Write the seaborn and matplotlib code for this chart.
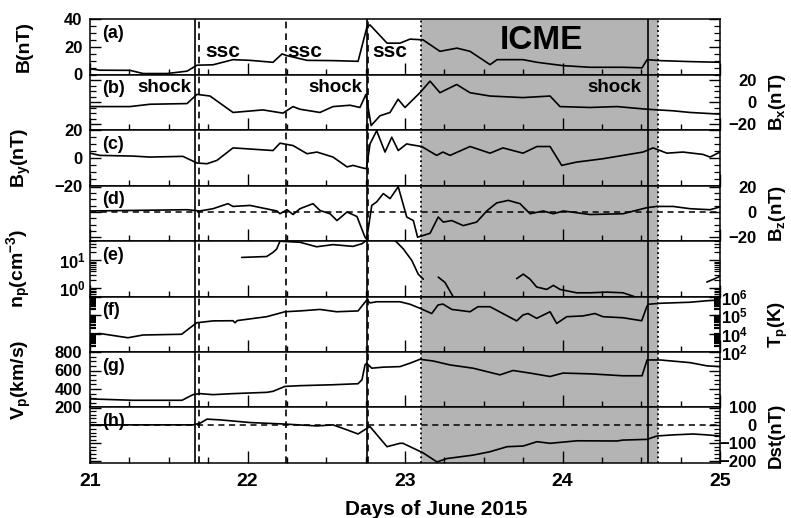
import numpy as np
import pandas as pd
import matplotlib
matplotlib.use("Agg")
import matplotlib.pyplot as plt
from matplotlib import ticker
import seaborn as sns

# ---------------- data ----------------
b_day = [21.000, 21.063, 21.254, 21.337, 21.489, 21.616, 21.679, 21.781, 21.908, 22.016,
         22.162, 22.219, 22.251, 22.378, 22.543, 22.702, 22.759, 22.778, 22.886, 22.968,
         23.032, 23.114, 23.222, 23.330, 23.413, 23.540, 23.584, 23.749, 23.838, 24.003,
         24.175, 24.384, 24.505, 24.537, 24.619, 24.810, 25.000]
b_val = [4.1, 3.1, 3.0, 0.7, 0.7, 2.4, 6.7, 7.0, 10.7, 10.2,
         8.8, 14.8, 13.6, 10.2, 10.0, 9.5, 34.5, 35.7, 22.6, 22.6,
         25.5, 25.0, 16.7, 19.0, 16.7, 7.1, 10.7, 10.7, 8.8, 6.4,
         5.2, 5.2, 4.8, 10.7, 10.0, 9.3, 8.8]

bx_day = [21.000, 21.254, 21.381, 21.616, 21.679, 21.762, 21.908, 22.098, 22.225, 22.289,
          22.333, 22.460, 22.543, 22.651, 22.714, 22.752, 22.785, 22.841, 22.905, 22.956,
          23.000, 23.095, 23.159, 23.222, 23.328, 23.413, 23.540, 23.749, 23.921, 23.984,
          24.175, 24.346, 24.537, 24.702, 24.810, 25.000]
bx_val = [-3.9, -3.9, -1.8, -1.2, 7.1, 5.6, -9.2, -6.9, -9.8, -3.9,
          -6.3, -9.2, -3.9, -2.7, -4.7, 7.1, -21.0, -12.2, -9.2, 2.7,
          -4.7, 8.6, 19.0, 8.6, 16.0, 8.6, 5.6, 4.2, 5.6, -3.9,
          -4.7, -3.9, -6.3, -7.7, -9.2, -10.7]

by_day = [21.000, 21.063, 21.273, 21.381, 21.590, 21.679, 21.743, 21.806, 21.908, 22.162,
          22.206, 22.289, 22.378, 22.441, 22.543, 22.632, 22.670, 22.733, 22.755, 22.778,
          22.820, 22.873, 22.916, 22.957, 23.011, 23.032, 23.106, 23.201, 23.241, 23.286,
          23.413, 23.540, 23.622, 23.749, 23.838, 23.921, 23.995, 24.090, 24.175, 24.257,
          24.384, 24.511, 24.575, 24.663, 24.765, 24.892, 24.937, 25.000]
by_val = [3.3, 1.7, 1.2, 0.5, 1.0, -3.8, -4.3, -1.9, 7.1, 5.2,
          10.5, 8.8, 2.9, 4.1, 0.5, -6.6, -5.5, -7.4, -7.9, 10.0,
          19.5, 4.1, 14.8, 5.2, 10.0, 9.5, 8.1, 1.7, 4.1, 1.7,
          8.1, 3.3, 7.1, 3.3, 8.1, 8.1, -5.5, -3.1, -1.9, -0.7,
          1.7, 4.1, 7.1, 3.3, 4.1, 2.4, 0.5, 4.1]

bz_day = [21.000, 21.616, 21.698, 21.781, 21.876, 21.908, 22.016, 22.187, 22.206, 22.251,
          22.289, 22.333, 22.416, 22.460, 22.524, 22.568, 22.632, 22.695, 22.746, 22.757,
          22.789, 22.820, 22.862, 22.905, 22.957, 23.011, 23.053, 23.080, 23.159, 23.211,
          23.243, 23.297, 23.370, 23.455, 23.519, 23.582, 23.656, 23.730, 23.794, 23.878,
          23.942, 24.005, 24.175, 24.384, 24.535, 24.598, 24.702, 24.810, 24.937, 25.000]
bz_val = [0.8, 1.8, 0.8, 2.6, 6.6, 4.4, 5.2, 0.8, -1.4, 1.8,
          -2.0, 2.6, 6.6, 1.2, -1.4, -6.8, 0.0, -3.6, -20.0, -21.4,
          5.2, 8.0, 14.6, 10.6, 20.0, -4.0, -6.8, -20.0, -16.9, -4.0,
          -8.0, -6.8, -10.8, -8.0, 0.8, 7.2, 9.2, 6.6, -1.4, 0.8,
          -1.4, 0.8, -2.0, -1.4, 3.4, 4.4, 4.4, 2.6, 1.8, 4.0]

np_day = [21.963, 22.122, 22.162, 22.185, 22.206, 22.333, 22.439, 22.543, 22.670, 22.727,
          22.760, 22.850, 22.937, 22.989, 23.043, 23.084, 23.116,
          23.211, 23.254, 23.297, 23.310,
          23.709, 23.751, 23.794, 23.836, 23.900, 23.942, 23.984, 24.090, 24.175, 24.281,
          24.384, 24.450, 24.470,
          24.916, 24.968, 25.000]
np_val = [12.8, 13.8, 19.5, 25.6, 49.0, 45.0, 31.0, 37.0, 32.0, 40.0,
          55.0, 70.0, 52.0, 26.0, 10.0, 3.2, 2.1,
          2.5, 1.6, 0.6, 0.45,
          2.2, 3.2, 2.1, 1.1, 0.9, 1.26, 0.9, 0.68, 0.68, 0.72,
          0.68, 0.51, 0.45,
          1.66, 2.2, 2.7]
np_seg = [1] * 17 + [2] * 4 + [3] * 13 + [4] * 3

tp_day = [21.000, 21.063, 21.241, 21.337, 21.582, 21.677, 21.781, 21.908, 21.921, 21.935,
          22.122, 22.238, 22.333, 22.460, 22.566, 22.702, 22.757, 22.778, 22.820, 22.968,
          23.032, 23.095, 23.170, 23.210, 23.241, 23.297, 23.413, 23.463, 23.540, 23.709,
          23.749, 23.781, 23.836, 23.921, 23.963, 24.027, 24.130, 24.206, 24.257, 24.384,
          24.503, 24.535, 24.545, 24.619, 24.810, 24.918, 25.000]
tp_val = [9.1e3, 1.0e4, 5.9e3, 8.3e3, 9.1e3, 3.8e4, 4.8e4, 4.9e4, 3.8e4, 5.0e4,
          8.1e4, 1.5e5, 1.66e5, 2.0e5, 1.5e5, 1.66e5, 6.5e5, 4.5e5, 5.2e5, 5.2e5,
          3.8e5, 2.3e5, 1.2e5, 3.5e5, 3.9e5, 2.0e5, 1.5e5, 2.8e5, 2.8e5, 4.8e4,
          1.0e5, 1.2e5, 6.6e4, 1.5e5, 3.5e4, 8.1e4, 8.9e4, 1.2e5, 8.1e4, 7.1e4,
          4.9e4, 2.8e5, 3.8e5, 4.3e5, 4.9e5, 5.9e5, 6.5e5]

vp_day = [21.000, 21.273, 21.584, 21.654, 21.698, 21.781, 21.908, 22.124, 22.162, 22.238,
          22.333, 22.543, 22.702, 22.727, 22.746, 22.757, 22.789, 22.860, 22.968, 23.032,
          23.095, 23.178, 23.286, 23.432, 23.603, 23.686, 23.794, 23.921, 24.003, 24.175,
          24.384, 24.505, 24.537, 24.619, 24.810, 24.918, 25.000]
vp_val = [293, 278, 278, 339, 350, 339, 350, 364, 375, 428,
          436, 446, 457, 500, 660, 679, 625, 636, 642, 679,
          721, 703, 660, 625, 553, 600, 572, 535, 572, 564,
          543, 543, 714, 714, 685, 650, 642]

dst_day = [21.000, 21.654, 21.698, 21.743, 21.825, 22.016, 22.225, 22.441, 22.543, 22.632,
           22.702, 22.759, 22.778, 22.886, 22.968, 22.987, 23.114, 23.203, 23.267, 23.432,
           23.540, 23.648, 23.751, 23.838, 23.921, 24.092, 24.346, 24.384, 24.537, 24.600,
           24.702, 24.829, 24.918, 25.000]
dst_val = [3, 3, 12, 35, 31, 16, 8, -3, 3, -25,
           -48, -16, -7, -119, -100, -100, -153, -204, -185, -166,
           -147, -119, -115, -91, -100, -86, -87, -82, -78, -59,
           -53, -48, -53, -59]

solid_lines = [21.667, 22.757, 24.545]
dashed_lines = [21.692, 22.243, 22.767]
icme_span = [23.099, 24.605]
x_ticks = [21, 22, 23, 24, 25]

panel_letters = ["(a)", "(b)", "(c)", "(d)", "(e)", "(f)", "(g)", "(h)"]
y_labels = ["B(nT)", "B$_x$(nT)", "B$_y$(nT)", "B$_z$(nT)",
            "n$_p$(cm$^{-3}$)", "T$_p$(K)", "V$_p$(km/s)", "Dst(nT)"]
ssc_days = [21.730, 22.251, 22.790]
shock_days = [21.645, 22.727, 24.503]
tp_tick_vals = [1e3, 1e4, 1e5, 1e6]
tp_tick_labels = ["$10^2$", "$10^4$", "$10^5$", "$10^6$"]

# ---------------- style ----------------
sns.set_style("ticks")
plt.rcParams["font.family"] = ["Liberation Sans", "DejaVu Sans"]
plt.rcParams["font.weight"] = "bold"
plt.rcParams["mathtext.fontset"] = "custom"
plt.rcParams["mathtext.rm"] = "Liberation Sans:bold"
plt.rcParams["mathtext.it"] = "Liberation Sans:bold"
plt.rcParams["mathtext.bf"] = "Liberation Sans:bold"
plt.rcParams["mathtext.default"] = "rm"
plt.rcParams["axes.edgecolor"] = "black"
plt.rcParams["axes.linewidth"] = 1.1
plt.rcParams["text.color"] = "black"
plt.rcParams["axes.labelcolor"] = "black"
plt.rcParams["xtick.color"] = "black"
plt.rcParams["ytick.color"] = "black"

fig, axes = plt.subplots(8, 1, figsize=(7.91, 5.18), dpi=100, sharex=True)
fig.subplots_adjust(left=90 / 791, right=720 / 791, top=1 - 19 / 518,
                    bottom=1 - 463 / 518, hspace=0)

series = [(b_day, b_val, None), (bx_day, bx_val, None), (by_day, by_val, None),
          (bz_day, bz_val, None), (np_day, np_val, np_seg), (tp_day, tp_val, None),
          (vp_day, vp_val, None), (dst_day, dst_val, None)]

ylims = [(0, 40), (-25, 25), (-20, 20), (-23, 21), (0.5, 50), (1e3, 1e6), (200, 800), (-210, 100)]
majors = [[0, 20, 40], [-20, 0, 20], [-20, 0, 20], [-20, 0, 20], [1, 10], tp_tick_vals,
          [200, 400, 600, 800], [-200, -100, 0, 100]]
minors = [5, 5, 5, 5, None, None, 50, 20]
right_side = [False, True, False, True, False, True, False, True]

for i, ax in enumerate(axes):
    days, vals, seg = series[i]
    df = pd.DataFrame({"day": days, "val": vals,
                       "seg": seg if seg is not None else [0] * len(days)})
    ax.axvspan(icme_span[0], icme_span[1], color="#b4b4b4", lw=0, zorder=0)
    for d in icme_span:
        ax.axvline(d, color="black", ls=":", lw=1.3, zorder=1)
    for d in solid_lines:
        ax.axvline(d, color="black", ls="-", lw=1.2, zorder=1)
    for d in dashed_lines:
        ax.axvline(d, color="black", ls=(0, (4, 3)), lw=1.2, zorder=1)
    if i in (3, 7):
        ax.axhline(0, color="black", ls=(0, (4, 3)), lw=1.1, zorder=1)
    sns.lineplot(data=df, x="day", y="val", units="seg", estimator=None, sort=False,
                 color="black", lw=1.2, ax=ax, legend=False, zorder=3)

    ax.set_xlim(21, 25)
    if i in (4, 5):
        ax.set_yscale("log")
    ax.set_ylim(*ylims[i])
    ax.yaxis.set_major_locator(ticker.FixedLocator(majors[i]))
    if minors[i] is not None:
        ax.yaxis.set_minor_locator(ticker.MultipleLocator(minors[i]))
    else:
        ax.yaxis.set_minor_locator(ticker.LogLocator(base=10, subs=np.arange(2, 10)))
        ax.yaxis.set_minor_formatter(ticker.NullFormatter())
    if i == 4:
        ax.yaxis.set_major_formatter(ticker.LogFormatterMathtext())
    if i == 5:
        ax.yaxis.set_major_formatter(ticker.FixedFormatter(tp_tick_labels))

    ax.xaxis.set_major_locator(ticker.FixedLocator(x_ticks))
    ax.xaxis.set_minor_locator(ticker.MultipleLocator(0.25))
    ax.tick_params(axis="x", which="major", direction="in", length=8.5, width=1,
                   top=False, bottom=True, labelsize=14, pad=7)
    ax.tick_params(axis="x", which="minor", direction="in", length=4.3, width=1,
                   top=False, bottom=True)
    ax.tick_params(axis="y", which="major", direction="in", length=8, width=1,
                   left=True, right=True, labelsize=12)
    ax.tick_params(axis="y", which="minor", direction="in", length=4,
                   width=1.6 if i == 5 else 0.9, left=True, right=True)

    if right_side[i]:
        pad = 20 if i == 5 else 26.5
        ax.tick_params(axis="y", which="major", labelleft=False, labelright=True, pad=pad)
        for t in ax.yaxis.get_major_ticks():
            t.label2.set_horizontalalignment("right")
        ax.yaxis.set_label_position("right")
        ax.set_ylabel(y_labels[i], fontsize=13.5, fontweight="bold")
        ax.yaxis.set_label_coords(1.075, 0.5)
    else:
        ax.tick_params(axis="y", which="major", labelleft=True, labelright=False,
                       pad=3 if i == 4 else 5.5)
        ax.set_ylabel(y_labels[i], fontsize=14, fontweight="bold")
        ax.yaxis.set_label_coords(-0.091, 0.5)

    ax.text(0.02, 0.74, panel_letters[i], transform=ax.transAxes, fontsize=13,
            fontweight="bold", ha="left", va="center", zorder=5)
    if i < 7:
        ax.tick_params(axis="x", labelbottom=False)
        ax.set_xlabel("")

axes[0].text(23.868, 0.62, "ICME", transform=axes[0].get_xaxis_transform(),
             fontsize=24, fontweight="bold", ha="center", va="center", zorder=5)
for d in ssc_days:
    axes[0].text(d, 0.41, "ssc", transform=axes[0].get_xaxis_transform(),
                 fontsize=15, fontweight="bold", ha="left", va="center", zorder=5)
for d in shock_days:
    axes[1].text(d, 0.77, "shock", transform=axes[1].get_xaxis_transform(),
                 fontsize=13.5, fontweight="bold", ha="right", va="center", zorder=5)

axes[7].set_xlabel("Days of June 2015", fontsize=15, fontweight="bold")
axes[7].xaxis.set_label_coords(0.549, -0.66)

fig.savefig("out.png", dpi=100)
